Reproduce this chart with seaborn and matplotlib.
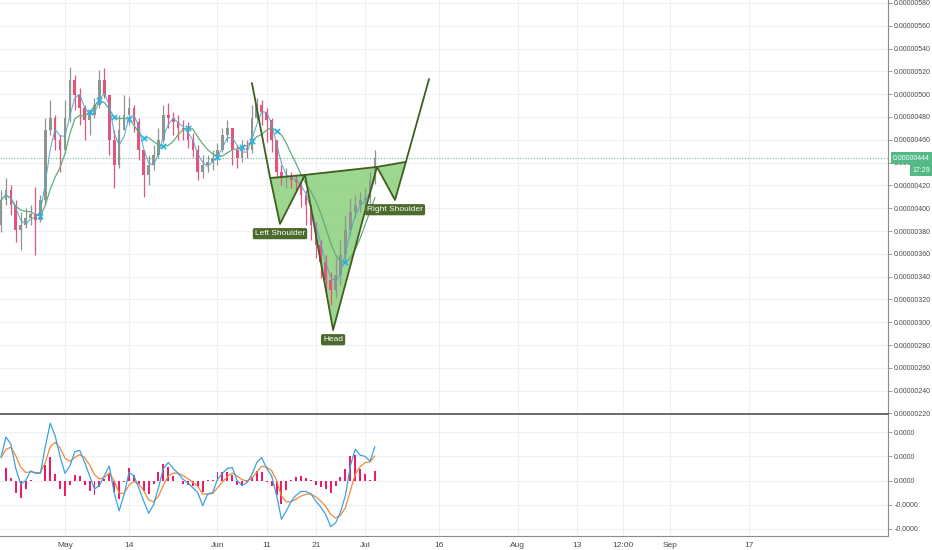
import numpy as np
import pandas as pd
import seaborn as sns
import matplotlib.pyplot as plt
import matplotlib.dates as mdates
import matplotlib.transforms as mtransforms
from matplotlib.ticker import FixedLocator, FuncFormatter

# daily candles, prices in units of 1e-8
dates = pd.date_range("2018-04-18", periods=77, freq="D")
first_open = 385.3
close = [407.2, 416.0, 402.8, 380.9, 385.3, 391.4, 394.9, 389.6, 407.2, 468.6,
         479.1, 459.8, 451.0, 479.1, 512.5, 499.3, 487.9, 477.4, 481.7, 490.5,
         512.5, 499.3, 459.8, 437.9, 468.6, 481.7, 487.9, 475.6, 451.0, 429.1,
         437.9, 446.7, 459.8, 481.7, 479.1, 475.6, 470.3, 468.6, 459.8, 451.0,
         431.7, 437.9, 440.5, 444.0, 451.0, 464.2, 470.3, 451.0, 444.0, 452.8,
         451.0, 479.1, 490.5, 484.4, 477.4, 459.8, 431.7, 426.5, 428.2, 424.7,
         423.0, 411.6, 402.8, 385.3, 367.7, 352.8, 337.0, 328.2, 341.4, 359.0,
         380.9, 396.7, 402.8, 407.2, 408.9, 424.7, 444.0]
high = [416.0, 426.5, 420.4, 407.2, 396.7, 400.2, 402.8, 418.6, 411.6, 479.1,
        494.9, 481.7, 464.2, 494.9, 523.9, 516.8, 505.4, 490.5, 486.1, 496.7,
        521.2, 523.0, 494.9, 468.6, 481.7, 499.3, 497.5, 490.5, 479.1, 451.0,
        446.7, 455.4, 470.3, 490.5, 492.3, 484.4, 481.7, 477.4, 475.6, 466.0,
        455.4, 446.7, 446.7, 451.0, 457.2, 470.3, 477.4, 468.6, 455.4, 459.8,
        459.8, 490.5, 496.7, 494.9, 487.9, 479.1, 459.8, 437.9, 435.3, 431.7,
        429.1, 424.7, 416.0, 402.8, 387.9, 372.1, 359.0, 344.0, 356.3, 372.1,
        394.0, 408.9, 411.6, 414.2, 417.7, 431.7, 451.0]
low = [379.1, 402.8, 394.0, 370.4, 363.3, 382.6, 385.3, 359.0, 387.9, 402.8,
       464.2, 451.0, 431.7, 448.0, 476.0, 486.1, 473.0, 459.8, 464.2, 479.1,
       488.0, 496.7, 446.7, 417.7, 435.0, 468.6, 473.0, 466.8, 442.2, 409.8,
       420.4, 433.5, 444.0, 457.0, 470.3, 464.2, 459.8, 459.8, 452.8, 444.9,
       424.7, 426.5, 431.7, 433.5, 437.9, 449.0, 458.1, 437.9, 435.3, 440.5,
       444.0, 448.0, 477.4, 473.0, 458.1, 449.3, 426.5, 420.4, 417.7, 417.7,
       414.2, 401.0, 385.3, 372.1, 356.3, 338.8, 326.5, 315.1, 321.2, 332.6,
       354.6, 376.5, 391.4, 396.7, 400.2, 402.8, 421.0]
macd = [0.95, 1.8, 1.5, 0.5, -0.15, 0.0, 0.4, 0.3, 0.3, 1.4,
        2.37, 1.85, 1.0, 0.3, 0.6, 1.2, 1.25, 0.75, 0.2, -0.35,
        -0.2, 0.2, 0.6, -0.5, -1.25, -0.6, 0.33, 0.2, -0.3, -0.85,
        -1.35, -1.0, -0.3, 0.5, 0.75, 0.5, 0.3, 0.05, -0.1, -0.3,
        -0.5, -1.04, -0.55, -0.5, 0.05, 0.3, 0.5, 0.54, 0.0, -0.2,
        -0.08, 0.25, 0.75, 0.95, 0.5, 0.2, -0.6, -1.6, -1.25, -0.85,
        -0.6, -0.45, -0.45, -0.55, -0.85, -1.1, -1.4, -1.9, -1.75, -1.3,
        -0.62, 0.6, 1.3, 1.05, 1.0, 0.8, 1.4]

last_price = 444.0
last_time = "17:29"

# inverse head and shoulders drawing
pattern_times = ["2018-06-08 00:00", "2018-06-11 17:00", "2018-06-13 17:00",
                 "2018-06-18 19:00", "2018-06-24 12:00", "2018-07-03 10:00",
                 "2018-07-07 02:00", "2018-07-09 07:00", "2018-07-14 00:00"]
pattern_prices = [509.8, 426.5, 386.2, 429.2, 293.2, 436.2, 407.2, 440.6, 513.3]
pattern_labels = {2: "Left Shoulder", 4: "Head", 6: "Right Shoulder"}

tick_dates = ["2018-05-01 00:00", "2018-05-14 00:00", "2018-06-01 00:00",
              "2018-06-11 00:00", "2018-06-21 00:00", "2018-07-01 00:00",
              "2018-07-16 00:00", "2018-08-01 00:00", "2018-08-13 00:00",
              "2018-08-22 12:00", "2018-09-01 00:00", "2018-09-17 00:00"]
tick_labels = ["May", "14", "Jun", "11", "21", "Jul", "16", "Aug", "13",
               "12:00", "Sep", "17"]
price_ticks = list(range(220, 581, 20))
macd_ticks = [2, 1, 0, -1, -2]
macd_tick_labels = ["0.0000", "0.0000", "0.0000", "-0.0000", "-0.0000"]

sns.set_style("white")
plt.rcParams['font.family'] = ['Liberation Sans', 'DejaVu Sans']

df = pd.DataFrame({"date": dates, "close": close, "high": high, "low": low})
df["open"] = [first_open] + close[:-1]
df["ma_fast"] = df["close"].rolling(3, min_periods=1).mean()
df["ma_slow"] = df["close"].rolling(7, min_periods=1).mean()
df["macd"] = macd
df["signal"] = df["macd"].ewm(span=4, adjust=False).mean()
df["hist"] = df["macd"] - df["signal"]

tick_ts = pd.to_datetime(tick_dates, format="%Y-%m-%d %H:%M")

W, H = 932, 550
fig = plt.figure(figsize=(W / 100, H / 100), dpi=100)
ax1 = fig.add_axes([0, 1 - 414 / H, 888 / W, 414 / H])
ax2 = fig.add_axes([0, 1 - 536 / H, 888 / W, 121 / H], sharex=ax1)

grid_c = "#eef0f3"
for ax in (ax1, ax2):
    for d in tick_ts:
        ax.axvline(d, color=grid_c, lw=0.8, zorder=0)
for p in price_ticks:
    ax1.axhline(p, color=grid_c, lw=0.8, zorder=0)
for m in macd_ticks:
    ax2.axhline(m, color=grid_c, lw=0.8, zorder=0)

# pattern fill sits under the candles
pt = pd.to_datetime(pattern_times, format="%Y-%m-%d %H:%M")
pp = pattern_prices
edge = "#3f5e1f"
for a, b, c in [(1, 2, 3), (3, 4, 5), (5, 6, 7)]:
    ax1.fill([pt[a], pt[b], pt[c]], [pp[a], pp[b], pp[c]],
             color="#93d283", alpha=0.9, zorder=1, lw=0)

# candles
up = df["close"] >= df["open"]
colors = np.where(up, "#8e968e", "#e2557d")
ax1.vlines(df["date"], df["low"], df["high"], colors=colors, lw=0.9, zorder=2)
ax1.bar(df["date"], (df["close"] - df["open"]).abs().clip(lower=0.8),
        bottom=df[["open", "close"]].min(axis=1), width=0.55,
        color=colors, edgecolor="none", linewidth=0, zorder=2)

sns.lineplot(data=df, x="date", y="ma_slow", ax=ax1, color="#5fae7c",
             linewidth=0.9, zorder=3)
sns.lineplot(data=df, x="date", y="ma_fast", ax=ax1, color="#58a6c8",
             linewidth=0.8, zorder=3, alpha=0.9)

# cross markers where the averages meet
diff = np.sign(df["ma_fast"] - df["ma_slow"]).values
cross = np.where(diff[1:] * diff[:-1] < 0)[0] + 1
ax1.scatter(df["date"].iloc[cross], df["ma_slow"].iloc[cross], marker="x",
            s=14, color="#29b3ea", linewidths=1.2, zorder=4)

# pattern outline and labels
ax1.plot(pt, pp, color=edge, lw=1.3, zorder=6)
ax1.plot([pt[1], pt[3], pt[5], pt[7]], [pp[1], pp[3], pp[5], pp[7]],
         color=edge, lw=1.3, zorder=6)
for i, lab in pattern_labels.items():
    ax1.annotate(lab, (pt[i], pp[i]), xytext=(0, -7), textcoords="offset points",
                 ha="center", va="center", fontsize=6, color="white",
                 zorder=7,
                 bbox=dict(boxstyle="round,pad=0.25,rounding_size=0.2",
                           fc="#4b6a2b", ec="none"))

# last price
ax1.axhline(last_price, color="#5cbf95", lw=0.8, ls=(0, (1, 1.5)), zorder=1)
trans = mtransforms.blended_transform_factory(ax1.transAxes, ax1.transData)
ax1.annotate(f"{last_price / 1e8:.8f}", (1.0, last_price), xycoords=trans,
             xytext=(42, 0), textcoords="offset pixels", ha="right",
             va="center", fontsize=5, color="white", annotation_clip=False,
             bbox=dict(boxstyle="square,pad=0.3", fc="#53b987", ec="none"))
ax1.annotate(last_time, (1.0, last_price), xycoords=trans, xytext=(42, -12),
             textcoords="offset pixels", ha="right", va="center", fontsize=5,
             color="white", annotation_clip=False,
             bbox=dict(boxstyle="square,pad=0.3", fc="#53b987", ec="none"))

# MACD panel
ax2.bar(df["date"], df["hist"], width=0.4, color="#ec1c6b",
        edgecolor="none", linewidth=0, zorder=2)
sns.lineplot(data=df, x="date", y="signal", ax=ax2, color="#f0883a",
             linewidth=0.9, zorder=3)
sns.lineplot(data=df, x="date", y="macd", ax=ax2, color="#3aa2e0",
             linewidth=0.9, zorder=3)

ax1.set_xlim(pd.Timestamp("2018-04-17 19:00"), pd.Timestamp("2018-10-15 07:00"))
ax1.set_ylim(219.5, 582.6)
ax2.set_ylim(-2.29, 2.71)

for ax in (ax1, ax2):
    ax.set_xlabel("")
    ax.set_ylabel("")
    ax.yaxis.tick_right()
    ax.spines["top"].set_visible(False)
    ax.spines["left"].set_visible(False)
    ax.spines["right"].set_color("#8c8c8c")
    ax.spines["bottom"].set_color("#8c8c8c")
    ax.tick_params(axis="y", length=3, width=0.6, color="#8c8c8c",
                   labelsize=5, labelcolor="#4a4a4a", pad=1.5)
ax1.spines["bottom"].set_color("#5f5f5f")
ax1.spines["bottom"].set_linewidth(1.3)

ax1.yaxis.set_major_locator(FixedLocator(price_ticks))
ax1.yaxis.set_major_formatter(FuncFormatter(lambda v, _: f"{v / 1e8:.8f}"))
ax2.yaxis.set_major_locator(FixedLocator(macd_ticks))
ax2.set_yticklabels(macd_tick_labels)

ax1.tick_params(axis="x", bottom=False, labelbottom=False)
ax2.xaxis.set_major_locator(FixedLocator(mdates.date2num(tick_ts)))
ax2.set_xticklabels(tick_labels)
ax2.tick_params(axis="x", length=0, labelsize=6, labelcolor="#4a4a4a", pad=4)

fig.savefig("out.png", dpi=100)
plt.close(fig)
